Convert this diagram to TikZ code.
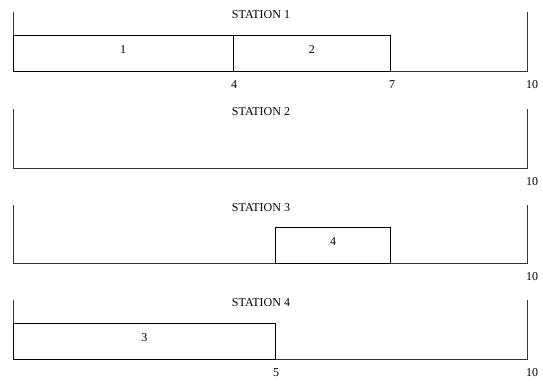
\documentclass[tikz,border=0pt]{standalone}
\usepackage{fontspec}
\setmainfont{Liberation Serif}
\usepackage{tikz}
\usetikzlibrary{positioning}

\begin{document}
\begin{tikzpicture}[
    x=1pt, y=-1pt,
    axis/.style={line width=0.8pt, black!80},
    job/.style={rectangle, draw=black, line width=0.8pt, minimum height=36pt, inner sep=0pt, outer sep=0pt, anchor=south west, text depth=7pt, font=\fontsize{12}{14}\selectfont},
    station/.style={font=\fontsize{12}{14}\selectfont, anchor=center},
    tick/.style={font=\fontsize{12}{14}\selectfont, anchor=north, inner sep=1pt}
]
    \useasboundingbox (0,0) rectangle (543,383);

    % Station 1
    \draw[axis] (13,12) -- (13,71.5) -- (527,71.5) -- (527,12);
    \node[station] (st1) at (261,15) {STATION 1};
    \node[job, minimum width=220pt] (j1) at (13,71.5) {1};
    \node[job, minimum width=157.5pt] (j2) at (233,71.5) {2};
    \node[tick] (t1a) at (234,79) {4};
    \node[tick] (t1b) at (392,79) {7};
    \node[tick, anchor=north west] (t1c) at (525,79) {10};

    % Station 2
    \draw[axis] (13,109) -- (13,168.5) -- (527,168.5) -- (527,109);
    \node[station] (st2) at (261,112) {STATION 2};
    \node[tick, anchor=north west] (t2c) at (525,176) {10};

    % Station 3
    \draw[axis] (13,205) -- (13,263.5) -- (527,263.5) -- (527,205);
    \node[station] (st3) at (261,208) {STATION 3};
    \node[job, minimum width=115pt] (j4) at (275.5,263.5) {4};
    \node[tick, anchor=north west] (t3c) at (525,271) {10};

    % Station 4
    \draw[axis] (13,300) -- (13,359.5) -- (527,359.5) -- (527,300);
    \node[station] (st4) at (261,303) {STATION 4};
    \node[job, minimum width=262.5pt] (j3) at (13,359.5) {3};
    \node[tick] (t4a) at (276,367) {5};
    \node[tick, anchor=north west] (t4c) at (525,367) {10};
\end{tikzpicture}
\end{document}
